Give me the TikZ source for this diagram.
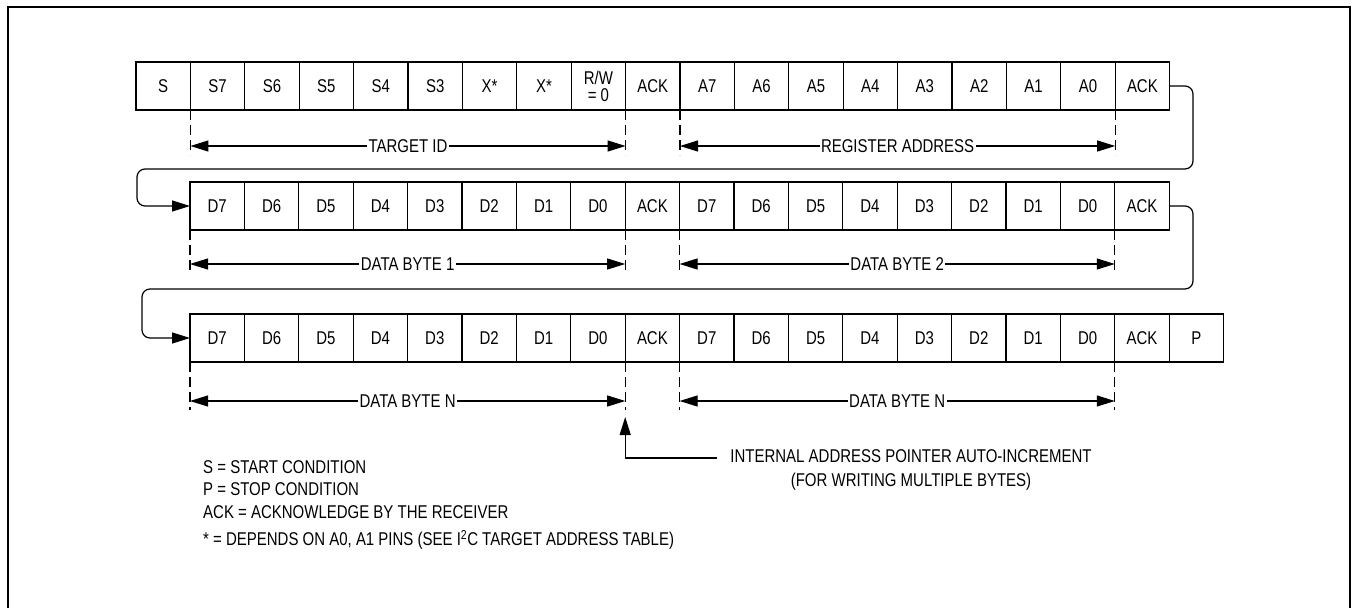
\documentclass[tikz,border=0pt]{standalone}
\usepackage{fontspec}
\setmainfont[FakeStretch=0.81]{Liberation Sans}
\usetikzlibrary{arrows.meta,calc}
\begin{document}
\begin{tikzpicture}[x=1pt,y=-1pt,
  font=\fontsize{18.5}{17}\selectfont,
  cell/.style={draw, line width=1.2pt, minimum width=54.4pt, minimum height=48pt,
    inner sep=0pt, outer sep=0pt, anchor=north west, align=center},
  dashv/.style={line width=1.1pt, dash pattern=on 10pt off 5pt},
  tip/.tip={Triangle[length=18pt,width=11pt]},
  dimarrow/.style={line width=1.1pt, tip-tip},
  lbl/.style={fill=white, inner sep=1.5pt},
  loopline/.style={line width=1.2pt, rounded corners=8pt, -tip},
  legend/.style={anchor=base west, inner sep=0pt},
]
\useasboundingbox (0,0) rectangle (1353,608);
\draw[line width=1.6pt] (8,7) rectangle (1350,650);

% row 1
\foreach \t [count=\i] in {S,S7,S6,S5,S4,S3,X*,X*,{R/W\\= 0},ACK,A7,A6,A5,A4,A3,A2,A1,A0,ACK}
  \node[cell] (r1c\i) at ({136+(\i-1)*54.4},62) {\t};
% row 2
\foreach \t [count=\i] in {D7,D6,D5,D4,D3,D2,D1,D0,ACK,D7,D6,D5,D4,D3,D2,D1,D0,ACK}
  \node[cell] (r2c\i) at ({190+(\i-1)*54.4},182) {\t};
% row 3
\foreach \t [count=\i] in {D7,D6,D5,D4,D3,D2,D1,D0,ACK,D7,D6,D5,D4,D3,D2,D1,D0,ACK,P}
  \node[cell] (r3c\i) at ({190+(\i-1)*54.4},314) {\t};

% dimension lines row 1
\foreach \c in {r1c2.south west,r1c9.south east,r1c11.south west,r1c18.south east}
  \draw[dashv] (\c) -- ++(0,45);
\draw[dimarrow] ($(r1c2.south west)+(0,36)$) -- node[lbl]{TARGET ID} ($(r1c9.south east)+(0,36)$);
\draw[dimarrow] ($(r1c11.south west)+(0,36)$) -- node[lbl]{REGISTER ADDRESS} ($(r1c18.south east)+(0,36)$);

% dimension lines row 2
\foreach \c in {r2c1.south west,r2c8.south east,r2c10.south west,r2c17.south east}
  \draw[dashv] (\c) -- ++(0,43);
\draw[dimarrow] ($(r2c1.south west)+(0,34)$) -- node[lbl]{DATA BYTE 1} ($(r2c8.south east)+(0,34)$);
\draw[dimarrow] ($(r2c10.south west)+(0,34)$) -- node[lbl]{DATA BYTE 2} ($(r2c17.south east)+(0,34)$);

% dimension lines row 3
\foreach \c in {r3c1.south west,r3c8.south east,r3c10.south west,r3c17.south east}
  \draw[dashv] (\c) -- ++(0,48);
\draw[dimarrow] ($(r3c1.south west)+(0,39)$) -- node[lbl]{DATA BYTE N} ($(r3c8.south east)+(0,39)$);
\draw[dimarrow] ($(r3c10.south west)+(0,39)$) -- node[lbl]{DATA BYTE N} ($(r3c17.south east)+(0,39)$);

% loop connectors
\coordinate (k1) at (1193,169);
\coordinate (k2) at (137,206);
\draw[loopline] (r1c19.east) -| (k1) -| (k2) -- (r2c1.west);
\coordinate (k3) at (1193,289);
\coordinate (k4) at (142,338);
\draw[loopline] (r2c18.east) -| (k3) -| (k4) -- (r3c1.west);

% pointer note
\coordinate (ptrtip) at ($(r3c8.south east)+(0,55)$);
\coordinate (ptrend) at (717,458);
\draw[line width=1.1pt, -tip] (ptrend) -| (ptrtip);
\node[align=center, font=\fontsize{18.5}{24}\selectfont, inner sep=0pt] (note) at (911,470)
  {INTERNAL ADDRESS POINTER AUTO-INCREMENT\\(FOR WRITING MULTIPLE BYTES)};

% legend
\node[legend] (l1) at (203,473.5) {S = START CONDITION};
\node[legend] (l2) at (203,495.5) {P = STOP CONDITION};
\node[legend] (l3) at (203,518.5) {ACK = ACKNOWLEDGE BY THE RECEIVER};
\node[legend] (l4) at (203,545.5) {* = DEPENDS ON A0, A1 PINS (SEE I\textsuperscript{2}C TARGET ADDRESS TABLE)};
\end{tikzpicture}
\end{document}
